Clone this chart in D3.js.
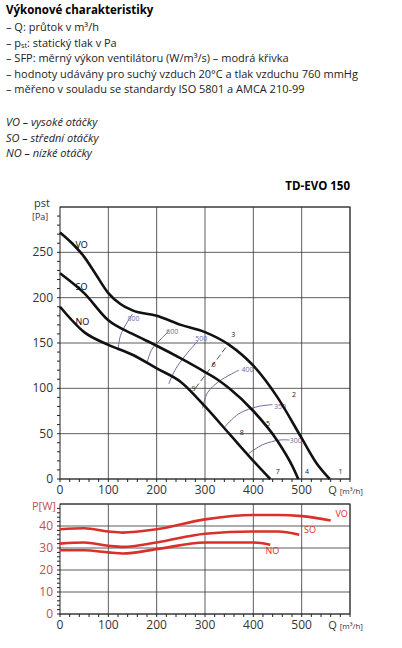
<!DOCTYPE html><html><head><meta charset="utf-8"><script src="https://cdn.jsdelivr.net/npm/d3@7"></script>
<style>body{margin:0;background:#fff;font-family:"Open Sans",sans-serif}</style></head><body><svg id="c" width="402" height="648"></svg>
<script>
const qTicks=[0,100,200,300,400,500];
const pTicks=[0,50,100,150,200,250];
const wTicks=[0,10,20,30,40];
const curveVO=[[0,272],[25,260],[50,245],[75,225],[100,205],[125,193],[150,186],[200,180],[250,170],[300,162],[350,148],[400,125],[450,90],[500,45],[530,18],[558,0]];
const curveSO=[[0,227],[50,205],[100,175],[150,160],[200,147],[250,133],[300,118],[325,110],[350,100],[400,75],[450,42],[480,15],[493,0]];
const curveNO=[[0,190],[50,162],[100,148],[150,137],[200,122],[250,107],[300,80],[350,50],[400,20],[435,0]];
const sfp=[{l:"800",p:[[120,142],[125,158],[138,172],[150,182]],lp:[152,178]},
 {l:"600",p:[[180,128],[190,143],[210,155],[225,163]],lp:[232,163]},
 {l:"500",p:[[225,105],[240,122],[265,140],[285,152]],lp:[292,155]},
 {l:"400",p:[[295,78],[305,95],[330,108],[370,120]],lp:[388,121]},
 {l:"350",p:[[340,57],[370,72],[410,80],[440,82]],lp:[455,81]},
 {l:"300",p:[[390,28],[420,38],[455,43],[475,43]],lp:[488,43]}];
const sysLine=[[280,100],[350,150]];
const points=[["1",572,5],["2",476,90],["3",350,157],["4",503,5],["5",422,59],["6",310,123],["7",442,5],["8",368,48],["9",268,97]];
const powVO=[[0,38.5],[50,39],[100,37.5],[130,37],[200,38.5],[300,43],[400,45],[450,45],[500,44.5],[560,42.5]];
const powSO=[[0,32],[50,32.5],[100,31],[130,30.5],[200,32.5],[300,36.5],[400,37.5],[450,37.5],[495,36]];
const powNO=[[0,29],[50,29],[100,28],[130,27.5],[200,29.5],[300,32.5],[400,32.5],[435,31.5]];
const header=["– Q: průtok v m³/h","– pₛₜ: statický tlak v Pa","– SFP: měrný výkon ventilátoru (W/m³/s) – modrá křivka","– hodnoty udávány pro suchý vzduch 20°C a tlak vzduchu 760 mmHg","– měřeno v souladu se standardy ISO 5801 a AMCA 210-99"];
const legend=["VO – vysoké otáčky","SO – střední otáčky","NO – nízké otáčky"];

const svg=d3.select("#c");
svg.append("text").attr("x",6).attr("y",14).attr("font-size",11.5).attr("font-weight","bold").text("Výkonové charakteristiky");
header.forEach((t,i)=>svg.append("text").attr("x",6).attr("y",31+i*15.5).attr("font-size",11).attr("fill","#222").text(t));
legend.forEach((t,i)=>svg.append("text").attr("x",6).attr("y",126+i*15.5).attr("font-size",11).attr("fill","#222").attr("font-style","italic").text(t));
svg.append("text").attr("x",350).attr("y",190).attr("text-anchor","end").attr("font-size",11.5).attr("font-weight","bold").text("TD-EVO 150");

const x=d3.scaleLinear().domain([0,600]).range([60,350]);
const y=d3.scaleLinear().domain([0,300]).range([479,207]);
const yw=d3.scaleLinear().domain([0,50]).range([614,504]);
const line=d3.line().x(d=>x(d[0])).y(d=>y(d[1])).curve(d3.curveMonotoneX);
const lineB=d3.line().x(d=>x(d[0])).y(d=>y(d[1])).curve(d3.curveCatmullRom);
const lineW=d3.line().x(d=>x(d[0])).y(d=>yw(d[1])).curve(d3.curveMonotoneX);

function frame(ys,ticks,minor,col){
  const g=svg.append("g");
  g.append("rect").attr("x",60).attr("y",ys.range()[1]).attr("width",290).attr("height",ys.range()[0]-ys.range()[1]).attr("fill","none").attr("stroke","#222").attr("stroke-width",1);
  qTicks.slice(1).concat([600]).forEach(v=>g.append("line").attr("x1",x(v)).attr("x2",x(v)).attr("y1",ys.range()[0]).attr("y2",ys.range()[1]).attr("stroke","#333").attr("stroke-width",0.8));
  ticks.concat([ys.domain()[1]]).forEach(v=>g.append("line").attr("x1",60).attr("x2",350).attr("y1",ys(v)).attr("y2",ys(v)).attr("stroke","#333").attr("stroke-width",0.8));
  d3.range(0,ys.domain()[1],minor).forEach(v=>g.append("line").attr("x1",57).attr("x2",60).attr("y1",ys(v)).attr("y2",ys(v)).attr("stroke","#222"));
  d3.range(0,601,20).forEach(v=>g.append("line").attr("x1",x(v)).attr("x2",x(v)).attr("y1",ys.range()[0]).attr("y2",ys.range()[0]+3).attr("stroke","#222"));
  ticks.forEach(v=>g.append("text").attr("x",53).attr("y",ys(v)+4).attr("text-anchor","end").attr("font-size",12).attr("fill",col).text(v));
  qTicks.forEach(v=>g.append("text").attr("x",x(v)).attr("y",ys.range()[0]+15).attr("text-anchor","middle").attr("font-size",12).attr("fill","#333").text(v));
  g.append("text").attr("x",x(555)).attr("y",ys.range()[0]+15).attr("font-size",11).attr("fill","#333").html('Q <tspan font-size="8">[m³/h]</tspan>');
}
frame(y,pTicks,10,"#333");
frame(yw,wTicks,2,"#c0504d");
svg.append("text").attr("x",34).attr("y",207).attr("font-size",11).attr("fill","#333").text("pst");
svg.append("text").attr("x",32).attr("y",220).attr("font-size",9).attr("fill","#333").text("[Pa]");
svg.append("text").attr("x",32).attr("y",510).attr("font-size",11).attr("fill","#c0504d").text("P[W]");

sfp.forEach(s=>{svg.append("path").attr("d",lineB(s.p)).attr("fill","none").attr("stroke","#6a6f9a").attr("stroke-width",1);
 svg.append("text").attr("x",x(s.lp[0])).attr("y",y(s.lp[1])+3).attr("text-anchor","middle").attr("font-size",7).attr("fill","#6a6f9a").text(s.l);});
svg.append("path").attr("d",d3.line().x(d=>x(d[0])).y(d=>y(d[1]))(sysLine)).attr("stroke","#222").attr("stroke-dasharray","6,3").attr("stroke-width",0.8);
svg.append("line").attr("x1",x(500)).attr("x2",x(500)).attr("y1",y(0)).attr("y2",y(40)).attr("stroke","#555").attr("stroke-width",0.8);
[curveVO,curveSO,curveNO].forEach(c=>svg.append("path").attr("d",line(c)).attr("fill","none").attr("stroke","#111").attr("stroke-width",2.6));
points.forEach(p=>svg.append("text").attr("x",x(p[1])+2).attr("y",y(p[2])).attr("font-size",7).attr("fill","#222").text(p[0]));
[["VO",32,255],["SO",32,208],["NO",32,170]].forEach(l=>svg.append("text").attr("x",x(l[1])).attr("y",y(l[2])).attr("font-size",9).text(l[0]));
[powVO,powSO,powNO].forEach(c=>svg.append("path").attr("d",lineW(c)).attr("fill","none").attr("stroke","#d9302b").attr("stroke-width",2.6));
[["VO",570,44],["SO",505,37],["NO",425,27.5]].forEach(l=>svg.append("text").attr("x",x(l[1])).attr("y",yw(l[2])).attr("font-size",9).attr("fill","#d9302b").text(l[0]));
</script></body></html>
